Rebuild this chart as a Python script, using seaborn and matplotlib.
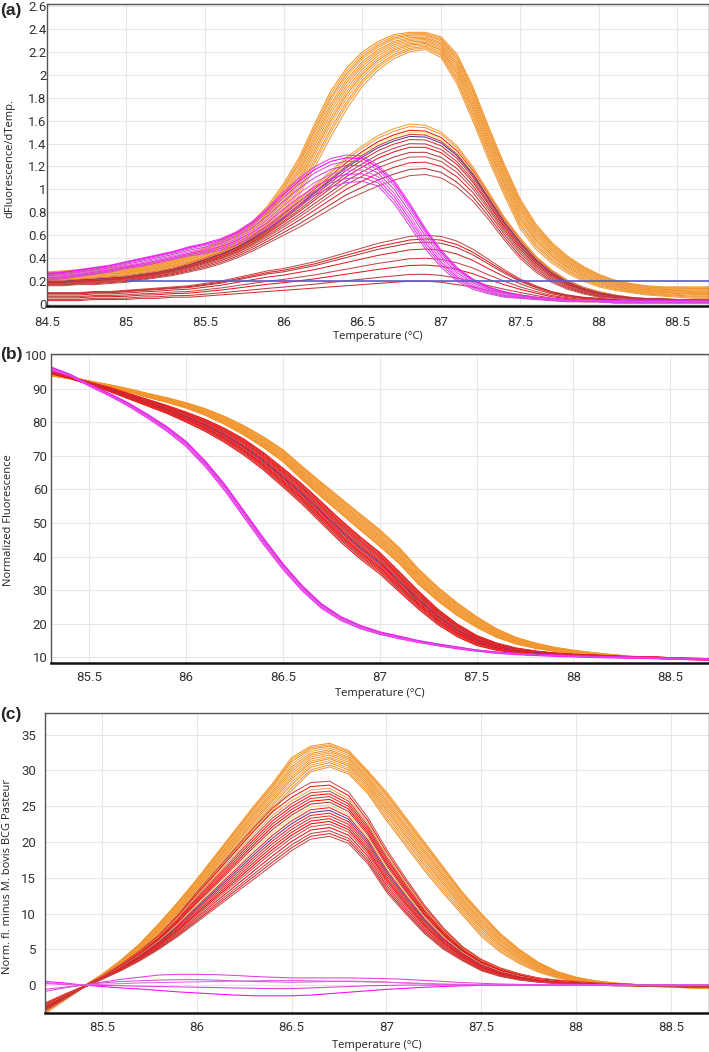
import numpy as np
import pandas as pd
import matplotlib
matplotlib.use("Agg")
import matplotlib.pyplot as plt
import seaborn as sns

# ---------------- data ----------------
# Panel (a): derivative melt curves, temperature grid 84.5..88.7 (0.1 C)
A_T = np.round(np.arange(84.5, 88.701, 0.1), 1)
A_ORANGE_HI = [0.28,0.29,0.30,0.31,0.32,0.33,0.35,0.37,0.40,0.44,0.49,0.55,0.62,0.71,0.86,1.05,1.28,1.58,1.86,2.06,
               2.20,2.29,2.35,2.37,2.37,2.33,2.18,1.90,1.55,1.22,0.92,0.70,0.54,0.42,0.33,0.26,0.21,0.18,0.16,0.15,
               0.15,0.15,0.15]
A_ORANGE_LO = [0.20,0.21,0.22,0.22,0.23,0.24,0.26,0.28,0.30,0.33,0.36,0.40,0.45,0.52,0.62,0.76,0.95,1.20,1.46,1.70,
               1.90,2.04,2.14,2.20,2.22,2.15,1.92,1.60,1.26,0.95,0.66,0.48,0.36,0.27,0.20,0.15,0.12,0.10,0.08,0.07,
               0.06,0.05,0.05]
A_MID_HI = [0.21,0.21,0.22,0.23,0.24,0.25,0.27,0.29,0.32,0.36,0.41,0.46,0.52,0.60,0.69,0.80,0.92,1.04,1.16,1.28,
            1.38,1.47,1.53,1.57,1.56,1.50,1.38,1.20,0.98,0.76,0.58,0.42,0.30,0.21,0.15,0.11,0.08,0.06,0.05,0.05,
            0.04,0.04,0.04]
A_MID_LO = [0.16,0.16,0.17,0.17,0.18,0.19,0.21,0.23,0.25,0.28,0.31,0.35,0.40,0.46,0.53,0.60,0.67,0.75,0.83,0.91,
            0.97,1.03,1.08,1.12,1.13,1.10,1.02,0.90,0.74,0.56,0.40,0.28,0.19,0.13,0.09,0.06,0.05,0.04,0.03,0.03,
            0.02,0.02,0.02]
A_LOW_HI = [0.10,0.10,0.10,0.11,0.11,0.12,0.13,0.14,0.15,0.16,0.18,0.20,0.23,0.26,0.29,0.31,0.34,0.37,0.41,0.45,
            0.49,0.53,0.56,0.59,0.60,0.59,0.55,0.48,0.39,0.30,0.22,0.16,0.11,0.08,0.06,0.05,0.04,0.03,0.03,0.03,
            0.03,0.03,0.03]
A_LOW_LO = [0.03,0.03,0.03,0.04,0.04,0.04,0.05,0.05,0.06,0.06,0.07,0.08,0.09,0.10,0.11,0.12,0.13,0.14,0.15,0.16,
            0.17,0.18,0.19,0.20,0.20,0.19,0.17,0.15,0.12,0.10,0.08,0.06,0.04,0.03,0.02,0.02,0.01,0.01,0.01,0.01,
            0.01,0.01,0.01]
A_MAG_HI = [0.27,0.28,0.30,0.32,0.34,0.37,0.40,0.43,0.46,0.50,0.53,0.57,0.63,0.72,0.84,0.98,1.10,1.20,1.27,1.30,
            1.29,1.21,1.08,0.88,0.66,0.47,0.32,0.22,0.15,0.11,0.08,0.06,0.05,0.04,0.04,0.03,0.03,0.03,0.03,0.03,
            0.03,0.03,0.03]
A_MAG_LO = [0.21,0.22,0.24,0.26,0.28,0.31,0.33,0.36,0.39,0.42,0.44,0.47,0.52,0.58,0.66,0.76,0.86,0.95,1.02,1.06,
            1.07,1.03,0.88,0.68,0.48,0.32,0.20,0.13,0.09,0.06,0.05,0.04,0.03,0.02,0.02,0.02,0.01,0.01,0.01,0.01,
            0.01,0.01,0.01]
A_THRESHOLD = 0.2
A_THRESHOLD_START = 85.0

# Panel (b): normalized fluorescence, grid 85.3..88.7
B_T = np.round(np.arange(85.3, 88.701, 0.1), 1)
B_ORANGE_HI = [94.6,93.5,92.3,91.2,90.0,88.6,87.3,85.8,84.0,81.7,78.9,75.6,71.8,66.8,62.0,57.3,52.6,48.0,42.7,36.3,
               30.9,26.2,22.1,18.6,16.0,14.3,13.0,12.1,11.4,10.8,10.3,10.1,9.9,9.7,9.6]
B_ORANGE_LO = [93.8,92.9,91.7,90.4,89.0,87.4,85.9,84.2,82.0,79.3,76.1,72.4,68.2,62.8,57.6,52.7,47.8,43.0,37.9,31.7,
               26.7,22.4,18.9,16.0,14.0,12.7,11.8,11.1,10.6,10.2,9.9,9.7,9.5,9.3,9.2]
B_RED_HI = [95.2,93.6,91.9,90.4,88.6,86.8,85.0,83.0,80.8,78.1,74.9,70.9,66.3,61.5,56.2,50.8,45.8,41.2,35.5,29.7,
            24.3,19.9,16.5,14.3,12.8,11.9,11.3,10.9,10.7,10.4,10.2,10.1,9.9,9.7,9.6]
B_RED_LO = [94.4,93.0,91.1,89.2,87.0,84.8,82.6,80.0,77.2,73.9,70.1,65.7,60.7,55.5,49.8,44.2,39.2,34.8,29.5,24.3,
            19.7,16.1,13.5,12.1,11.2,10.7,10.5,10.3,10.1,10.0,9.8,9.7,9.5,9.3,9.2]
B_MAG_HI = [96.5,94.3,91.3,88.7,85.8,82.4,78.7,74.3,68.4,61.5,53.5,45.5,37.9,31.3,25.9,22.1,19.5,17.6,16.3,15.0,
            14.0,13.1,12.2,11.6,11.2,10.9,10.7,10.5,10.3,10.2,10.1,10.0,9.8,9.7,9.6]
B_MAG_LO = [95.5,93.7,90.7,87.9,84.8,81.2,77.3,72.7,66.6,59.5,51.5,43.5,36.1,29.7,24.5,20.9,18.5,16.8,15.5,14.4,
            13.4,12.5,11.8,11.2,10.8,10.5,10.3,10.1,9.9,9.8,9.7,9.6,9.4,9.3,9.2]

# Panel (c): difference curves, grid 85.2..88.7
C_T = np.round(np.arange(85.2, 88.701, 0.1), 1)
C_ORANGE_HI = [-3.0,-1.6,-0.2,1.5,3.5,5.8,8.6,11.6,14.8,18.2,21.6,25.0,28.2,31.8,33.4,33.8,32.8,30.0,27.0,23.5,
               20.0,16.5,13.0,10.0,7.2,5.0,3.2,1.9,1.1,0.6,0.3,0.1,0.0,-0.1,-0.2,-0.3]
C_ORANGE_LO = [-4.0,-2.2,-0.4,1.0,2.6,4.6,7.0,9.7,12.6,15.6,18.6,21.6,24.4,27.2,29.8,30.5,29.5,26.8,23.0,19.5,
               16.0,12.8,9.8,6.8,4.6,3.0,1.8,1.0,0.5,0.2,0.0,-0.1,-0.2,-0.3,-0.4,-0.5]
C_RED_HI = [-2.5,-1.3,-0.2,1.2,2.9,4.8,7.0,9.8,13.0,16.0,19.0,22.0,24.8,26.8,28.3,28.5,27.0,23.5,19.0,15.0,
            11.2,8.0,5.4,3.6,2.4,1.6,1.0,0.7,0.5,0.3,0.2,0.1,0.0,0.0,-0.1,-0.1]
C_RED_LO = [-3.6,-2.0,-0.4,0.8,2.0,3.4,5.0,6.8,8.8,10.8,12.8,14.8,16.8,18.8,20.4,20.8,19.8,17.0,13.0,10.0,
            7.2,5.0,3.4,2.0,1.2,0.7,0.4,0.2,0.1,0.0,-0.1,-0.1,-0.2,-0.2,-0.3,-0.3]
C_MAG_1 = [-0.6,-0.3,0.0,0.4,0.8,1.1,1.4,1.5,1.5,1.45,1.35,1.2,1.1,1.0,1.0,1.0,1.0,0.95,0.9,0.8,
           0.65,0.5,0.35,0.25,0.15,0.1,0.05,0.0,0.0,0.0,0.0,0.0,0.0,0.0,0.0,0.0]
C_MAG_2 = [0.5,0.3,0.0,-0.2,-0.4,-0.55,-0.75,-0.95,-1.1,-1.25,-1.4,-1.5,-1.5,-1.5,-1.4,-1.2,-1.0,-0.8,-0.6,-0.45,
           -0.3,-0.2,-0.1,-0.05,0.0,0.0,0.0,0.0,0.0,0.0,0.0,0.0,0.0,0.0,0.0,0.0]
C_MAG_3 = [-0.9,-0.4,0.0,0.3,0.5,0.6,0.7,0.75,0.75,0.7,0.6,0.5,0.45,0.4,0.45,0.5,0.55,0.5,0.4,0.3,
           0.2,0.1,0.05,0.0,0.0,0.0,0.0,0.0,0.0,0.0,0.0,0.0,0.0,0.0,0.0,0.0]
C_MAG_4 = [0.2,0.1,0.0,-0.05,-0.1,-0.15,-0.2,-0.25,-0.3,-0.35,-0.4,-0.45,-0.5,-0.5,-0.4,-0.3,-0.2,-0.1,-0.05,0.0,
           0.0,0.0,0.0,0.0,0.0,0.0,0.0,0.0,0.0,0.0,0.0,0.0,0.0,0.0,0.0,0.0]
C_MAG_5 = [0.35,0.15,0.0,0.1,0.2,0.3,0.35,0.4,0.45,0.5,0.55,0.6,0.65,0.65,0.6,0.55,0.5,0.45,0.4,0.3,
           0.2,0.15,0.1,0.05,0.0,0.0,0.0,0.0,0.0,0.0,0.0,0.0,0.0,0.0,0.0,0.0]

# position of each well inside its group's band (0 = lower edge, 1 = upper edge) and its colour
ORANGE_POS = [1.0, 0.93, 0.86, 0.8, 0.72, 0.65, 0.58, 0.5, 0.42, 0.35, 0.27, 0.18, 0.1, 0.0]
ORANGE_COL = ["#f7931e", "#f0a04a", "#f28a10", "#eba55a", "#f5901a", "#f39a35", "#ee9a40"]
MID_POS = [1.0, 0.95, 0.88, 0.84, 0.8, 0.76, 0.7, 0.62, 0.55, 0.45, 0.36, 0.25, 0.12, 0.0]
MID_COL = ["#f0a040", "#f39a35", "#e31a1c", "#ffe97a", "#c2413f", "#5b3a8c", "#d7302f", "#b8474a",
           "#e31a1c", "#a8403f", "#c9504e", "#e0282a", "#b03838", "#c25552"]
LOW_POS = [1.0, 0.92, 0.85, 0.7, 0.5, 0.35, 0.15, 0.0]
LOW_COL = ["#c0504d", "#e31a1c", "#b03a3a", "#d62728", "#c24848", "#e31a1c", "#b84040", "#cc3333"]
MAG_POS = [1.0, 0.9, 0.78, 0.62, 0.45, 0.3, 0.15, 0.0]
MAG_COL = ["#e040e0", "#ff00ff", "#cc55cc", "#d63fd6", "#e066e0", "#ff22ff", "#c94fc9", "#dd44dd"]
B_ORANGE_POS = [1.0, 0.93, 0.86, 0.78, 0.7, 0.62, 0.55, 0.48, 0.4, 0.33, 0.25, 0.18, 0.1, 0.04, 0.0]
B_RED_POS = [1.0, 0.95, 0.9, 0.84, 0.78, 0.72, 0.66, 0.6, 0.55, 0.5, 0.44, 0.38, 0.32, 0.26, 0.2, 0.14, 0.08, 0.0]
B_RED_COL = ["#ff1010", "#e31a1c", "#c0504d", "#ff0000", "#d43030", "#f01818", "#b5474b", "#ff2020", "#e52222",
             "#5b3a8c", "#ff1010", "#c9504e", "#ff0000", "#e31a1c", "#d43030", "#ff1a1a", "#b84a4a", "#f01010"]
B_MAG_POS = [1.0, 0.8, 0.6, 0.4, 0.2, 0.0]
C_ORANGE_POS = [1.0, 0.94, 0.88, 0.8, 0.72, 0.65, 0.58, 0.5, 0.42, 0.35, 0.26, 0.18, 0.08, 0.0]
C_RED_POS = [1.0, 0.93, 0.87, 0.82, 0.77, 0.72, 0.67, 0.62, 0.57, 0.52, 0.47, 0.42, 0.37, 0.32,
             0.27, 0.22, 0.16, 0.1, 0.05, 0.0]
C_RED_COL = ["#c9504e", "#e31a1c", "#f5a540", "#b8474a", "#ff1010", "#d7302f", "#ff0000", "#a8403f",
             "#ffd070", "#e0282a", "#5b3a8c", "#ff1a1a", "#c2413f", "#e31a1c", "#ff0000", "#c9504e",
             "#f01010", "#b8474a", "#e0282a", "#c0504d"]

A_XTICKS = [84.5, 85, 85.5, 86, 86.5, 87, 87.5, 88, 88.5]
A_YTICKS = [0, 0.2, 0.4, 0.6, 0.8, 1, 1.2, 1.4, 1.6, 1.8, 2, 2.2, 2.4, 2.6]
B_XTICKS = [85.5, 86, 86.5, 87, 87.5, 88, 88.5]
B_YTICKS = [10, 20, 30, 40, 50, 60, 70, 80, 90, 100]
C_XTICKS = [85.5, 86, 86.5, 87, 87.5, 88, 88.5]
C_YTICKS = [0, 5, 10, 15, 20, 25, 30, 35]
XLABEL = "Temperature (°C)"
A_YLABEL = "dFluorescence/dTemp."
B_YLABEL = "Normalized Fluorescence"
C_YLABEL = "Norm. fl. minus M. bovis BCG Pasteur"

# ---------------- helpers ----------------
def band_wells(T, hi, lo, pos, cols, name):
    hi = np.asarray(hi, float)
    lo = np.asarray(lo, float)
    frames, pal = [], {}
    for i, p in enumerate(pos):
        well = f"{name}{i}"
        frames.append(pd.DataFrame({"T": T, "v": lo + p * (hi - lo), "well": well}))
        pal[well] = cols[i % len(cols)]
    return frames, pal


def explicit_wells(T, curves, cols, name):
    frames, pal = [], {}
    for i, c in enumerate(curves):
        well = f"{name}{i}"
        frames.append(pd.DataFrame({"T": T, "v": c, "well": well}))
        pal[well] = cols[i % len(cols)]
    return frames, pal


def draw(ax, parts):
    frames, pal = [], {}
    for f, p in parts:
        frames += f
        pal.update(p)
    df = pd.concat(frames, ignore_index=True)
    sns.lineplot(data=df, x="T", y="v", hue="well", palette=pal, estimator=None,
                 sort=False, legend=False, linewidth=0.75, ax=ax)


sns.set_style("white")
plt.rcParams["font.family"] = ["Open Sans", "DejaVu Sans"]
TICK_FONT = ["Roboto", "DejaVu Sans"]

fig = plt.figure(figsize=(7.09, 10.52), dpi=100)
ax_a = fig.add_axes([0.0667, 0.7091, 0.9333, 0.2871])
ax_b = fig.add_axes([0.0715, 0.3698, 0.9285, 0.2934])
ax_c = fig.add_axes([0.0635, 0.0371, 0.9365, 0.2849])

# (a)
draw(ax_a, [band_wells(A_T, A_ORANGE_HI, A_ORANGE_LO, ORANGE_POS, ORANGE_COL, "ao"),
            band_wells(A_T, A_MID_HI, A_MID_LO, MID_POS, MID_COL, "am"),
            band_wells(A_T, A_LOW_HI, A_LOW_LO, LOW_POS, LOW_COL, "al"),
            band_wells(A_T, A_MAG_HI, A_MAG_LO, MAG_POS, MAG_COL, "ag")])
ax_a.hlines(A_THRESHOLD, A_THRESHOLD_START, A_T[-1], color="#5a5ec8", lw=1.2, zorder=5)

# (b)
draw(ax_b, [band_wells(B_T, B_ORANGE_HI, B_ORANGE_LO, B_ORANGE_POS, ORANGE_COL, "bo"),
            band_wells(B_T, B_RED_HI, B_RED_LO, B_RED_POS, B_RED_COL, "br"),
            band_wells(B_T, B_MAG_HI, B_MAG_LO, B_MAG_POS, MAG_COL, "bg")])

# (c)
draw(ax_c, [band_wells(C_T, C_ORANGE_HI, C_ORANGE_LO, C_ORANGE_POS, ORANGE_COL, "co"),
            band_wells(C_T, C_RED_HI, C_RED_LO, C_RED_POS, C_RED_COL, "cr"),
            explicit_wells(C_T, [C_MAG_1, C_MAG_2, C_MAG_3, C_MAG_4, C_MAG_5], MAG_COL, "cg")])

specs = [
    (ax_a, (84.5, 88.7), (-0.017, 2.617), A_XTICKS, A_YTICKS, A_YLABEL, 0.7, 7.0, -0.083, -0.048, 0.49),
    (ax_b, (85.3, 88.7), (8.3, 100.2), B_XTICKS, B_YTICKS, B_YLABEL, 2.2, 5.8, -0.081, -0.056, 0.463),
    (ax_c, (85.2, 88.7), (-3.9, 38.0), C_XTICKS, C_YTICKS, C_YLABEL, 6.5, 5.8, -0.09, -0.048, 0.454),
]
for ax, xl, yl, xt, yt, ylab, ypad, xpad, xly, ylx, yly in specs:
    ax.set_xlim(*xl)
    ax.set_ylim(*yl)
    ax.set_xticks(xt)
    ax.set_xticklabels([f"{v:g}" for v in xt], family=TICK_FONT, fontsize=9.5, color="#333333")
    ax.set_yticks(yt)
    ax.set_yticklabels([f"{v:g}" for v in yt], family=TICK_FONT, fontsize=9.5, color="#333333")
    ax.tick_params(axis="x", length=0, pad=xpad)
    ax.tick_params(axis="y", length=0, pad=ypad)
    ax.grid(True, color="#e6e6e6", lw=0.8)
    ax.set_axisbelow(True)
    for s in ["top", "right", "left"]:
        ax.spines[s].set_color("#555555")
        ax.spines[s].set_linewidth(1.0)
    ax.spines["bottom"].set_color("#111111")
    ax.spines["bottom"].set_linewidth(1.8)
    ax.set_xlabel(XLABEL, fontsize=8, color="#222222")
    ax.xaxis.set_label_coords(0.5, xly)
    ax.set_ylabel(ylab, fontsize=8, color="#222222")
    ax.yaxis.set_label_coords(ylx, yly)

for tag, ypix in [("(a)", 10), ("(b)", 355), ("(c)", 715)]:
    fig.text(0.0, 1 - ypix / 1052, tag, fontsize=12.5, fontweight="bold", family="Liberation Sans",
             va="center", ha="left")

fig.savefig("out.png", dpi=100)
